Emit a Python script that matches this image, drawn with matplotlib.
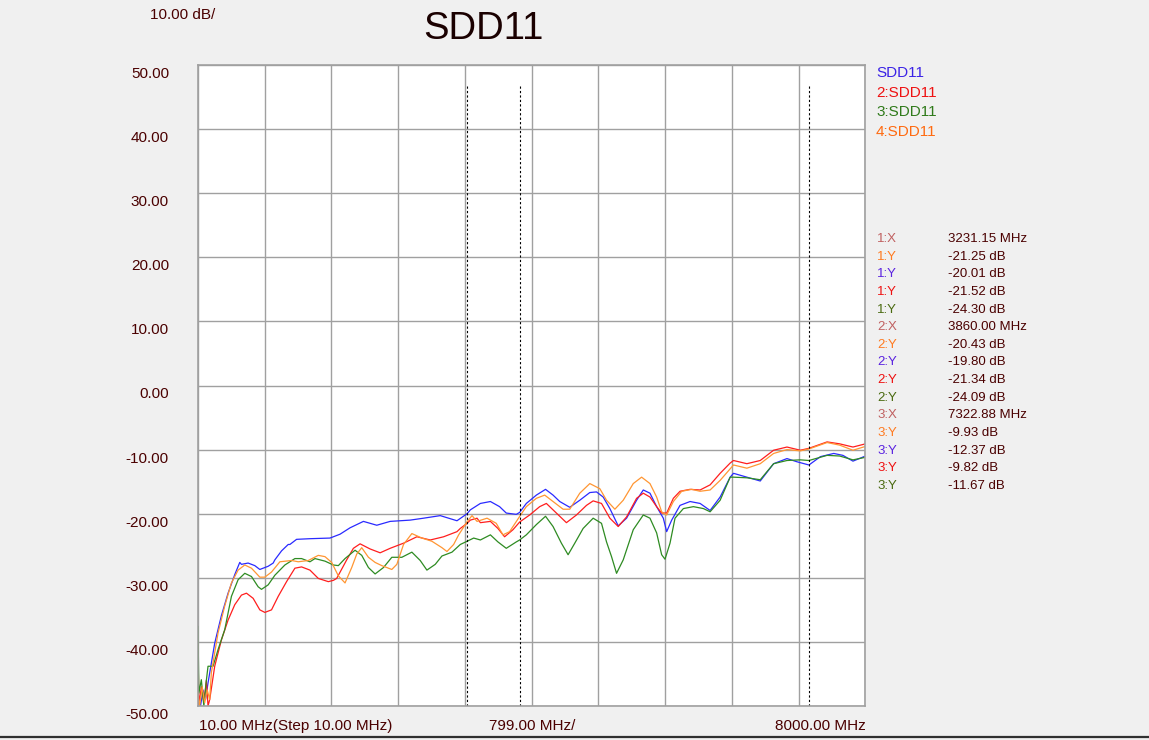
import matplotlib
matplotlib.use('Agg')
import matplotlib.pyplot as plt
from matplotlib.lines import Line2D
from matplotlib import transforms

plt.rcParams['font.family'] = ['Liberation Sans', 'DejaVu Sans']

# ------------------- data -------------------
blue_f = [10, 40, 70, 100, 130, 210, 290, 370, 450, 510, 530, 610, 690, 750, 850, 910, 930,
          1010, 1090, 1110, 1190, 1350, 1590, 1710, 1830, 1990, 2150, 2310, 2550, 2710, 2910,
          3110, 3231, 3270, 3390, 3510, 3620, 3700, 3820, 3860, 3940, 4060, 4170, 4260, 4340,
          4460, 4580, 4700, 4780, 4860, 4940, 5040, 5140, 5260, 5340, 5420, 5500, 5580, 5620,
          5680, 5780, 5900, 6020, 6140, 6260, 6380, 6420, 6580, 6740, 6900, 7060, 7180, 7323,
          7460, 7620, 7730, 7850, 8000]
blue_db = [-48.0, -50.0, -47.5, -49.0, -46.4, -40.2, -35.9, -32.4, -29.5, -27.6, -27.9, -27.7,
           -28.1, -28.7, -28.2, -27.7, -27.2, -25.8, -24.8, -24.8, -24.0, -23.9, -23.8, -23.2,
           -22.2, -21.2, -21.8, -21.2, -21.0, -20.7, -20.3, -21.1, -20.0, -19.4, -18.4, -18.1,
           -18.9, -19.9, -20.1, -19.8, -18.4, -17.1, -16.2, -17.1, -18.1, -19.0, -17.9, -16.7,
           -16.6, -17.4, -19.2, -21.9, -20.7, -17.9, -16.3, -16.8, -18.9, -20.7, -22.8, -21.0,
           -18.7, -18.1, -18.4, -19.5, -17.4, -14.3, -13.7, -14.3, -14.9, -12.2, -11.4, -11.9,
           -12.4, -11.1, -10.6, -10.9, -11.8, -11.0]

red_f = [10, 20, 50, 80, 110, 130, 150, 210, 290, 370, 450, 530, 590, 670, 750, 810, 890, 970,
         1070, 1170, 1250, 1350, 1450, 1570, 1630, 1670, 1790, 1870, 1950, 2070, 2190, 2310,
         2470, 2630, 2790, 2950, 3110, 3150, 3231, 3270, 3350, 3390, 3510, 3600, 3680, 3780,
         3860, 3980, 4100, 4180, 4300, 4420, 4540, 4660, 4740, 4840, 4940, 5040, 5140, 5260,
         5340, 5420, 5500, 5560, 5620, 5700, 5780, 5900, 6020, 6140, 6260, 6380, 6420, 6580,
         6740, 6900, 7060, 7220, 7323, 7540, 7690, 7850, 8000]
red_db = [-40.5, -50.0, -47.0, -49.5, -46.0, -50.0, -49.0, -43.8, -39.7, -36.6, -34.2, -32.7,
          -32.4, -33.2, -35.0, -35.4, -35.0, -32.9, -30.6, -28.5, -28.3, -28.8, -30.1, -30.6,
          -30.4, -30.1, -27.2, -25.4, -24.7, -25.5, -26.1, -25.4, -24.6, -23.6, -24.1, -23.6,
          -22.8, -22.3, -21.5, -21.0, -20.7, -21.4, -21.2, -22.3, -23.6, -22.5, -21.3, -20.2,
          -18.9, -18.4, -19.9, -21.4, -20.2, -18.7, -18.0, -18.4, -20.7, -22.0, -20.5, -17.6,
          -16.8, -17.4, -18.9, -19.9, -19.9, -17.6, -16.5, -16.2, -16.3, -15.5, -13.7, -12.1,
          -11.7, -12.2, -11.7, -10.1, -9.6, -10.1, -9.8, -8.8, -9.1, -9.6, -9.1]

green_f = [10, 20, 50, 80, 110, 130, 190, 250, 330, 410, 490, 570, 650, 730, 770, 850, 930,
           1050, 1170, 1250, 1350, 1410, 1530, 1630, 1690, 1770, 1890, 1970, 2050, 2130, 2230,
           2330, 2450, 2570, 2670, 2750, 2850, 2930, 3050, 3150, 3231, 3310, 3390, 3510, 3600,
           3700, 3820, 3860, 3940, 4060, 4170, 4260, 4360, 4440, 4520, 4620, 4740, 4840, 4900,
           4960, 5020, 5100, 5220, 5340, 5420, 5500, 5560, 5600, 5660, 5720, 5820, 5940, 6060,
           6140, 6260, 6380, 6420, 6580, 6740, 6900, 7060, 7220, 7323, 7540, 7690, 7850, 8000]
green_db = [-37.6, -48.0, -45.9, -50.0, -46.0, -43.8, -43.8, -41.2, -38.1, -32.9, -30.3, -29.3,
            -29.8, -31.4, -31.8, -31.1, -29.6, -28.0, -27.0, -27.0, -27.5, -27.0, -27.4, -28.0,
            -28.1, -27.0, -25.7, -26.5, -28.4, -29.4, -28.4, -26.8, -26.8, -26.0, -27.3, -28.8,
            -27.9, -26.6, -26.0, -24.8, -24.3, -23.8, -24.1, -23.3, -24.4, -25.4, -24.4, -24.1,
            -23.3, -21.7, -20.4, -22.0, -24.6, -26.4, -24.6, -22.3, -20.7, -21.5, -24.4, -26.7,
            -29.3, -27.2, -22.5, -20.2, -20.7, -23.0, -26.4, -27.1, -24.6, -20.7, -19.2, -18.9,
            -19.2, -19.7, -17.9, -14.3, -14.3, -14.4, -14.7, -12.2, -11.7, -11.6, -11.7, -10.9,
            -11.0, -11.6, -11.2]

orange_f = [10, 30, 60, 90, 120, 150, 170, 250, 330, 410, 490, 570, 650, 750, 810, 890, 990,
            1130, 1210, 1330, 1450, 1530, 1610, 1690, 1770, 1850, 1910, 1970, 2050, 2130, 2210,
            2330, 2390, 2470, 2570, 2690, 2810, 2930, 2990, 3070, 3130, 3231, 3290, 3350, 3470,
            3580, 3660, 3740, 3860, 3940, 4060, 4160, 4260, 4380, 4460, 4580, 4700, 4820, 4900,
            5000, 5100, 5220, 5320, 5420, 5500, 5560, 5620, 5700, 5800, 5920, 6020, 6140, 6260,
            6380, 6420, 6580, 6740, 6900, 7060, 7220, 7323, 7540, 7690, 7850, 8000]
orange_db = [-48.0, -50.0, -47.0, -49.5, -47.5, -49.0, -44.8, -38.6, -34.4, -30.8, -28.8, -28.0,
             -28.5, -29.9, -29.9, -29.1, -27.5, -27.3, -27.5, -27.3, -26.5, -26.7, -27.6, -29.7,
             -30.8, -28.4, -26.3, -25.3, -26.8, -27.6, -28.1, -28.7, -27.9, -24.8, -23.1, -23.8,
             -24.3, -25.3, -25.9, -24.8, -23.3, -21.25, -20.3, -21.2, -20.7, -21.5, -23.3, -22.8,
             -20.43, -18.9, -17.6, -17.1, -18.1, -19.3, -19.3, -16.8, -15.3, -16.1, -17.9, -19.3,
             -17.9, -15.3, -14.3, -15.3, -17.4, -19.7, -20.2, -18.1, -16.5, -16.2, -16.5, -16.3,
             -14.8, -13.0, -12.4, -12.9, -12.2, -10.6, -10.0, -10.2, -9.9, -8.9, -9.3, -10.1, -9.5]

marker_f = [3231.15, 3860.00, 7322.88]
y_ticks = [50, 40, 30, 20, 10, 0, -10, -20, -30, -40, -50]

legend_names = ['SDD11', '2:SDD11', '3:SDD11', '4:SDD11']
readout_labels = ['1:X', '1:Y', '1:Y', '1:Y', '1:Y', '2:X', '2:Y', '2:Y', '2:Y', '2:Y',
                  '3:X', '3:Y', '3:Y', '3:Y', '3:Y']
readout_values = ['3231.15 MHz', '-21.25 dB', '-20.01 dB', '-21.52 dB', '-24.30 dB',
                  '3860.00 MHz', '-20.43 dB', '-19.80 dB', '-21.34 dB', '-24.09 dB',
                  '7322.88 MHz', '-9.93 dB', '-12.37 dB', '-9.82 dB', '-11.67 dB']

# colours
c_blue, c_red, c_green, c_orange = '#2a2aff', '#ff1e1e', '#2e8b22', '#ff9633'
txt = '#4a0000'

fig = plt.figure(figsize=(11.49, 7.40), dpi=100, facecolor='#f0f0f0')
ax = fig.add_axes([198 / 1149, 1 - 706 / 740, 667.5 / 1149, 641 / 740])
ax.set_facecolor('white')

ax.plot(blue_f, blue_db, color=c_blue, lw=0.9)
ax.plot(red_f, red_db, color=c_red, lw=0.9)
ax.plot(green_f, green_db, color=c_green, lw=0.9)
ax.plot(orange_f, orange_db, color=c_orange, lw=0.9)

ax.vlines(marker_f, -50, 47, colors='black', linestyles=(0, (2, 2)), lw=0.8)

ax.set_xlim(10, 8000)
ax.set_ylim(-50, 50)
ax.set_xticks([10 + 799 * i for i in range(11)])
ax.set_xticklabels([])
ax.set_yticks(y_ticks)
ax.set_yticklabels([])
ax.tick_params(length=0)
ax.grid(True, color='#a0a0a0', lw=1)
ax.set_axisbelow(True)
for s in ax.spines.values():
    s.set_color('#a0a0a0')
    s.set_linewidth(1.2)

# y labels sit a little below their grid line
ylab_tr = transforms.offset_copy(transforms.blended_transform_factory(ax.transAxes, ax.transData),
                                 fig=fig, x=-29, y=-9, units='dots')
for v in y_ticks:
    ax.text(0, v, '%.2f' % v, transform=ylab_tr, fontsize=11, color=txt,
            ha='right', va='center', clip_on=False)

# header texts
fig.text(150 / 1149, 1 - 15 / 740, '10.00 dB/', fontsize=11, color=txt, va='center', ha='left')
fig.text(483 / 1149, 1 - 29 / 740, 'SDD11', fontsize=27.5, color='#1a0000', va='center', ha='center')

# x axis texts
fig.text(199 / 1149, 1 - 726 / 740, '10.00 MHz(Step 10.00 MHz)', fontsize=11, color=txt, va='center')
fig.text(532 / 1149, 1 - 726 / 740, '799.00 MHz/', fontsize=11, color=txt, va='center', ha='center')
fig.text(866 / 1149, 1 - 726 / 740, '8000.00 MHz', fontsize=11, color=txt, va='center', ha='right')

# legend
leg_colors = ['#3a22e6', '#ee1111', '#2f7a1a', '#ff6a10']
for i, name in enumerate(legend_names):
    fig.text(876 / 1149, 1 - (73 + 19.7 * i) / 740, name, fontsize=11, color=leg_colors[i], va='center')

# marker readout
lab_colors = ['#c06060', '#ff7a20', '#5a22e0', '#ee1111', '#4a6a10']
for i, (l, v) in enumerate(zip(readout_labels, readout_values)):
    y = 1 - (239 + 17.64 * i) / 740
    fig.text(877 / 1149, y, l, fontsize=9.5, color=lab_colors[i % 5], va='center')
    fig.text(948 / 1149, y, v, fontsize=9.5, color=txt, va='center')

# bottom frame line
fig.add_artist(Line2D([0, 1], [0.004, 0.004], color='#303030', lw=1.6, transform=fig.transFigure))

fig.savefig('out.png', dpi=100, facecolor=fig.get_facecolor())
